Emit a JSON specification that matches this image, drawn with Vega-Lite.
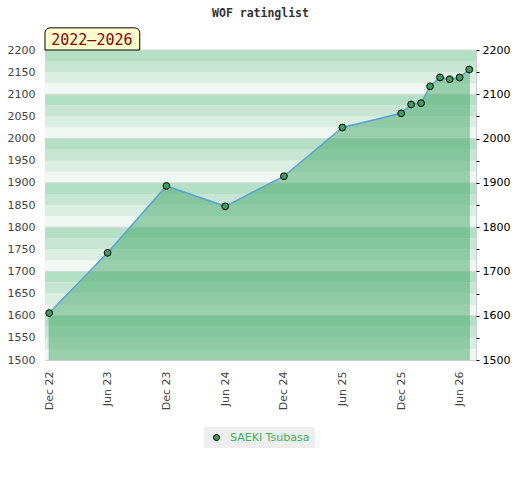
{
  "$schema": "https://vega.github.io/schema/vega-lite/v6.json",
  "width": 431,
  "height": 310,
  "autosize": {"type": "none"},
  "padding": {"left": 45, "top": 50, "right": 44, "bottom": 120},
  "title": {
    "text": "WOF ratinglist",
    "font": "DejaVu Sans Mono",
    "fontSize": 11.5,
    "fontWeight": "bold",
    "color": "#333333",
    "offset": 8
  },
  "config": {
    "view": {"stroke": "#cccccc", "strokeWidth": 1},
    "axis": {"labelFont": "DejaVu Sans", "labelFontSize": 11, "title": null, "grid": false, "domain": false}
  },
  "datasets": {
    "ratings": [
      {"date": "2022-12-01", "rating": 1606, "player": "SAEKI Tsubasa"},
      {"date": "2023-06-01", "rating": 1742, "player": "SAEKI Tsubasa"},
      {"date": "2023-12-01", "rating": 1893, "player": "SAEKI Tsubasa"},
      {"date": "2024-06-01", "rating": 1847, "player": "SAEKI Tsubasa"},
      {"date": "2024-12-01", "rating": 1915, "player": "SAEKI Tsubasa"},
      {"date": "2025-06-01", "rating": 2025, "player": "SAEKI Tsubasa"},
      {"date": "2025-12-01", "rating": 2057, "player": "SAEKI Tsubasa"},
      {"date": "2026-01-01", "rating": 2077, "player": "SAEKI Tsubasa"},
      {"date": "2026-02-01", "rating": 2080, "player": "SAEKI Tsubasa"},
      {"date": "2026-03-01", "rating": 2118, "player": "SAEKI Tsubasa"},
      {"date": "2026-04-01", "rating": 2138, "player": "SAEKI Tsubasa"},
      {"date": "2026-05-01", "rating": 2134, "player": "SAEKI Tsubasa"},
      {"date": "2026-06-01", "rating": 2138, "player": "SAEKI Tsubasa"},
      {"date": "2026-07-01", "rating": 2156, "player": "SAEKI Tsubasa"}
    ],
    "stripes": [
      {"lo": 1500, "hi": 1525, "band": 3}, {"lo": 1525, "hi": 1550, "band": 2},
      {"lo": 1550, "hi": 1575, "band": 1}, {"lo": 1575, "hi": 1600, "band": 0},
      {"lo": 1600, "hi": 1625, "band": 3}, {"lo": 1625, "hi": 1650, "band": 2},
      {"lo": 1650, "hi": 1675, "band": 1}, {"lo": 1675, "hi": 1700, "band": 0},
      {"lo": 1700, "hi": 1725, "band": 3}, {"lo": 1725, "hi": 1750, "band": 2},
      {"lo": 1750, "hi": 1775, "band": 1}, {"lo": 1775, "hi": 1800, "band": 0},
      {"lo": 1800, "hi": 1825, "band": 3}, {"lo": 1825, "hi": 1850, "band": 2},
      {"lo": 1850, "hi": 1875, "band": 1}, {"lo": 1875, "hi": 1900, "band": 0},
      {"lo": 1900, "hi": 1925, "band": 3}, {"lo": 1925, "hi": 1950, "band": 2},
      {"lo": 1950, "hi": 1975, "band": 1}, {"lo": 1975, "hi": 2000, "band": 0},
      {"lo": 2000, "hi": 2025, "band": 3}, {"lo": 2025, "hi": 2050, "band": 2},
      {"lo": 2050, "hi": 2075, "band": 1}, {"lo": 2075, "hi": 2100, "band": 0},
      {"lo": 2100, "hi": 2125, "band": 3}, {"lo": 2125, "hi": 2150, "band": 2},
      {"lo": 2150, "hi": 2175, "band": 1}, {"lo": 2175, "hi": 2200, "band": 0}
    ],
    "period": [
      {"from": "2022-11-18", "to": "2023-09-09", "mid": "2023-04-13", "lo": 2200, "hi": 2250, "ymid": 2223, "text": "2022–2026"}
    ]
  },
  "resolve": {"axis": {"y": "independent"}},
  "layer": [
    {
      "data": {"name": "stripes"},
      "mark": {"type": "rect"},
      "encoding": {
        "y": {
          "field": "lo", "type": "quantitative",
          "scale": {"domain": [1500, 2200], "nice": false, "zero": false},
          "axis": {
            "orient": "left", "format": "d",
            "values": [1500, 1550, 1600, 1650, 1700, 1750, 1800, 1850, 1900, 1950, 2000, 2050, 2100, 2150, 2200],
            "ticks": false, "tickSize": 0, "labelPadding": 10, "labelColor": "#444444"
          }
        },
        "y2": {"field": "hi"},
        "color": {
          "field": "band", "type": "ordinal", "legend": null,
          "scale": {"domain": [0, 1, 2, 3], "range": ["#b3dfc4", "#c6e6d3", "#daeee2", "#eff8f2"]}
        }
      }
    },
    {
      "data": {"name": "stripes"},
      "transform": [{"filter": "datum.band == 0"}],
      "mark": {"type": "rule", "color": "#d6d6d6", "strokeWidth": 1},
      "encoding": {
        "y": {"field": "hi", "type": "quantitative", "scale": {"domain": [1500, 2200], "nice": false, "zero": false}, "axis": null}
      }
    },
    {
      "data": {"name": "ratings"},
      "mark": {"type": "area", "color": "#45a968", "opacity": 0.5, "stroke": "#3a9a5a", "strokeWidth": 1, "strokeOpacity": 1, "clip": true},
      "encoding": {
        "x": {
          "field": "date", "type": "temporal",
          "scale": {"type": "utc", "domain": [{"year": 2022, "month": 11, "date": 18, "utc": true}, {"year": 2026, "month": 7, "date": 22, "utc": true}]},
          "axis": {
            "values": [
              {"year": 2022, "month": 12, "date": 1, "utc": true},
              {"year": 2023, "month": 6, "date": 1, "utc": true},
              {"year": 2023, "month": 12, "date": 1, "utc": true},
              {"year": 2024, "month": 6, "date": 1, "utc": true},
              {"year": 2024, "month": 12, "date": 1, "utc": true},
              {"year": 2025, "month": 6, "date": 1, "utc": true},
              {"year": 2025, "month": 12, "date": 1, "utc": true},
              {"year": 2026, "month": 6, "date": 1, "utc": true}
            ],
            "labelExpr": "utcFormat(datum.value, '%b %y')", "labelAngle": -90,
            "ticks": false, "tickSize": 0, "labelPadding": 11, "labelColor": "#444444"
          }
        },
        "y": {
          "field": "rating", "type": "quantitative",
          "scale": {"domain": [1500, 2200], "nice": false, "zero": false},
          "axis": {
            "orient": "right", "format": "d",
            "values": [1500, 1550, 1600, 1650, 1700, 1750, 1800, 1850, 1900, 1950, 2000, 2050, 2100, 2150, 2200],
            "labelExpr": "datum.value % 100 == 0 ? datum.label : ''",
            "ticks": true, "tickSize": 3, "tickColor": "#000000", "labelPadding": 3, "labelColor": "#000000"
          }
        }
      }
    },
    {
      "data": {"name": "ratings"},
      "mark": {"type": "line", "color": "#5ba3d9", "strokeWidth": 1.5, "clip": true},
      "encoding": {
        "x": {"field": "date", "type": "temporal", "scale": {"type": "utc", "domain": [{"year": 2022, "month": 11, "date": 18, "utc": true}, {"year": 2026, "month": 7, "date": 22, "utc": true}]}},
        "y": {"field": "rating", "type": "quantitative", "scale": {"domain": [1500, 2200], "nice": false, "zero": false}, "axis": null}
      }
    },
    {
      "data": {"name": "ratings"},
      "mark": {"type": "point", "filled": true, "size": 46, "stroke": "#000000", "strokeWidth": 1, "opacity": 1},
      "encoding": {
        "x": {"field": "date", "type": "temporal", "scale": {"type": "utc", "domain": [{"year": 2022, "month": 11, "date": 18, "utc": true}, {"year": 2026, "month": 7, "date": 22, "utc": true}]}},
        "y": {"field": "rating", "type": "quantitative", "scale": {"domain": [1500, 2200], "nice": false, "zero": false}, "axis": null},
        "fill": {
          "field": "player", "type": "nominal",
          "scale": {"range": ["#3a9f5c"]},
          "legend": {
            "title": null, "orient": "none", "legendX": 159, "legendY": 377,
            "fillColor": "#eeeeee", "padding": 5, "symbolOffset": 2,
            "symbolType": "circle", "symbolSize": 36, "symbolStrokeColor": "#000000", "symbolStrokeWidth": 1,
            "labelFont": "DejaVu Sans", "labelFontSize": 11, "labelColor": "#3cb35a", "labelOffset": 8
          }
        }
      }
    },
    {
      "data": {"name": "period"},
      "mark": {"type": "rect", "fill": "#ffffcc", "stroke": "#000000", "strokeWidth": 1, "cornerRadiusTopLeft": 5, "cornerRadiusTopRight": 5},
      "encoding": {
        "x": {"field": "from", "type": "temporal", "scale": {"type": "utc", "domain": [{"year": 2022, "month": 11, "date": 18, "utc": true}, {"year": 2026, "month": 7, "date": 22, "utc": true}]}},
        "x2": {"field": "to"},
        "y": {"field": "lo", "type": "quantitative", "scale": {"domain": [1500, 2200], "nice": false, "zero": false}, "axis": null},
        "y2": {"field": "hi"}
      }
    },
    {
      "data": {"name": "period"},
      "mark": {"type": "text", "font": "DejaVu Sans Mono", "fontSize": 15, "color": "#8b0000", "align": "center", "baseline": "middle"},
      "encoding": {
        "x": {"field": "mid", "type": "temporal", "scale": {"type": "utc", "domain": [{"year": 2022, "month": 11, "date": 18, "utc": true}, {"year": 2026, "month": 7, "date": 22, "utc": true}]}},
        "y": {"field": "ymid", "type": "quantitative", "scale": {"domain": [1500, 2200], "nice": false, "zero": false}, "axis": null},
        "text": {"field": "text"}
      }
    }
  ]
}
